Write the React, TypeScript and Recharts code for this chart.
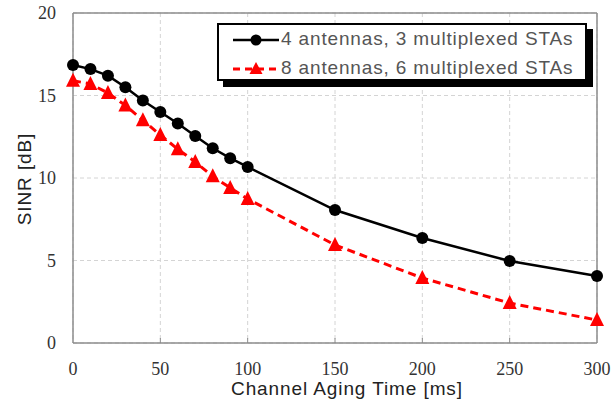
import React from 'react'
import { CartesianGrid, Line, LineChart, ReferenceLine, XAxis, YAxis } from 'recharts'

const times = [0, 10, 20, 30, 40, 50, 60, 70, 80, 90, 100, 150, 200, 250, 300]
const sinr4 = [16.85, 16.6, 16.2, 15.5, 14.7, 14.0, 13.3, 12.55, 11.8, 11.2, 10.67, 8.06, 6.36, 4.97, 4.06]
const sinr8 = [15.9, 15.7, 15.15, 14.4, 13.5, 12.6, 11.75, 10.97, 10.1, 9.4, 8.73, 5.94, 3.94, 2.42, 1.39]
const xTicks = [0, 50, 100, 150, 200, 250, 300]
const yTicks = [0, 5, 10, 15, 20]
const seriesNames = ['4 antennas, 3 multiplexed STAs', '8 antennas, 6 multiplexed STAs']

const data = times.map((t, i) => ({ t, a: sinr4[i], b: sinr8[i] }))

const tickFont = '"Liberation Serif", "DejaVu Serif", serif'
const labelFont = '"Liberation Sans", Arial, sans-serif'
const axisColor = '#8c8c8c'

const AXIS_Y = 343

function XTick(props: any) {
  const { x, payload } = props
  const v = payload.value
  return (
    <g>
      {v !== 0 && v !== 300 && (
        <line x1={x} x2={x} y1={AXIS_Y} y2={AXIS_Y - 5} stroke={axisColor} strokeWidth={1} />
      )}
      <text x={x} y={AXIS_Y + 32} textAnchor="middle" fontFamily={tickFont} fontSize={18} fill="#333">
        {v}
      </text>
    </g>
  )
}

function YTick(props: any) {
  const { y, payload } = props
  return (
    <text x={56} y={y + 6} textAnchor="end" fontFamily={tickFont} fontSize={18} fill="#333">
      {payload.value}
    </text>
  )
}

function Circle(props: any) {
  const { cx, cy, index } = props
  return <circle key={`c${index}`} cx={cx} cy={cy} r={6} fill="#000" />
}

function Tri(props: any) {
  const { cx, cy, index } = props
  const s = 7
  return (
    <polygon
      key={`t${index}`}
      points={`${cx},${cy - s - 1} ${cx - s},${cy + s - 1} ${cx + s},${cy + s - 1}`}
      fill="#ff0000"
    />
  )
}

function LegendBox() {
  return (
    <div style={{ position: 'absolute', left: 217, top: 23, width: 376, height: 64 }}>
      <div style={{ position: 'absolute', left: 6, top: 6, width: 370, height: 58, background: '#000' }} />
      <div
        style={{
          position: 'absolute',
          left: 0,
          top: 0,
          width: 366,
          height: 54,
          background: '#fff',
          border: '2px solid #000',
          fontFamily: labelFont,
          fontSize: 19,
          letterSpacing: 0.85,
          color: '#555',
        }}
      >
        <svg width={60} height={54} style={{ position: 'absolute', left: 12, top: 0 }}>
          <line x1={2} x2={48} y1={15} y2={15} stroke="#000" strokeWidth={2.5} />
          <circle cx={25} cy={15} r={5.5} fill="#000" />
          <line x1={2} x2={48} y1={44} y2={44} stroke="#ff0000" strokeWidth={3} strokeDasharray="7 5" />
          <polygon points="25,37 18.5,49 31.5,49" fill="#ff0000" />
        </svg>
        <div style={{ position: 'absolute', left: 62, top: 3, whiteSpace: 'nowrap' }}>{seriesNames[0]}</div>
        <div style={{ position: 'absolute', left: 62, top: 32, whiteSpace: 'nowrap' }}>{seriesNames[1]}</div>
      </div>
    </div>
  )
}

export default function App() {
  return (
    <div style={{ position: 'absolute', left: 0, top: 0, width: 614, height: 405, background: '#fff' }}>
      <LineChart width={614} height={405} data={data} margin={{ top: 13, right: 17, bottom: 0, left: 0 }}>
        <CartesianGrid stroke="#d4d4d4" strokeDasharray="4 3" />
        <XAxis
          dataKey="t"
          type="number"
          domain={[0, 300]}
          ticks={xTicks}
          height={62}
          axisLine={{ stroke: axisColor, strokeWidth: 1.5 }}
          tickLine={false}
          tick={<XTick />}
          interval={0}
        />
        <YAxis
          type="number"
          domain={[0, 20]}
          ticks={yTicks}
          width={73}
          axisLine={{ stroke: axisColor, strokeWidth: 1.5 }}
          tickLine={false}
          tick={<YTick />}
          interval={0}
        />
        <ReferenceLine y={20} stroke={axisColor} strokeWidth={1.5} />
        <ReferenceLine x={300} stroke={axisColor} strokeWidth={1.5} />
        <Line dataKey="a" stroke="#000" strokeWidth={2.5} dot={<Circle />} isAnimationActive={false} />
        <Line
          dataKey="b"
          stroke="#ff0000"
          strokeWidth={3}
          strokeDasharray="8 5"
          dot={<Tri />}
          isAnimationActive={false}
        />
        <text
          x={347}
          y={395}
          textAnchor="middle"
          fontFamily={labelFont}
          fontSize={19}
          letterSpacing={0.9}
          fill="#222"
        >
          Channel Aging Time [ms]
        </text>
        <text
          x={31}
          y={179}
          transform="rotate(-90 31 179)"
          textAnchor="middle"
          fontFamily={labelFont}
          fontSize={19}
          letterSpacing={0.9}
          fill="#222"
        >
          SINR [dB]
        </text>
      </LineChart>
      <LegendBox />
    </div>
  )
}
